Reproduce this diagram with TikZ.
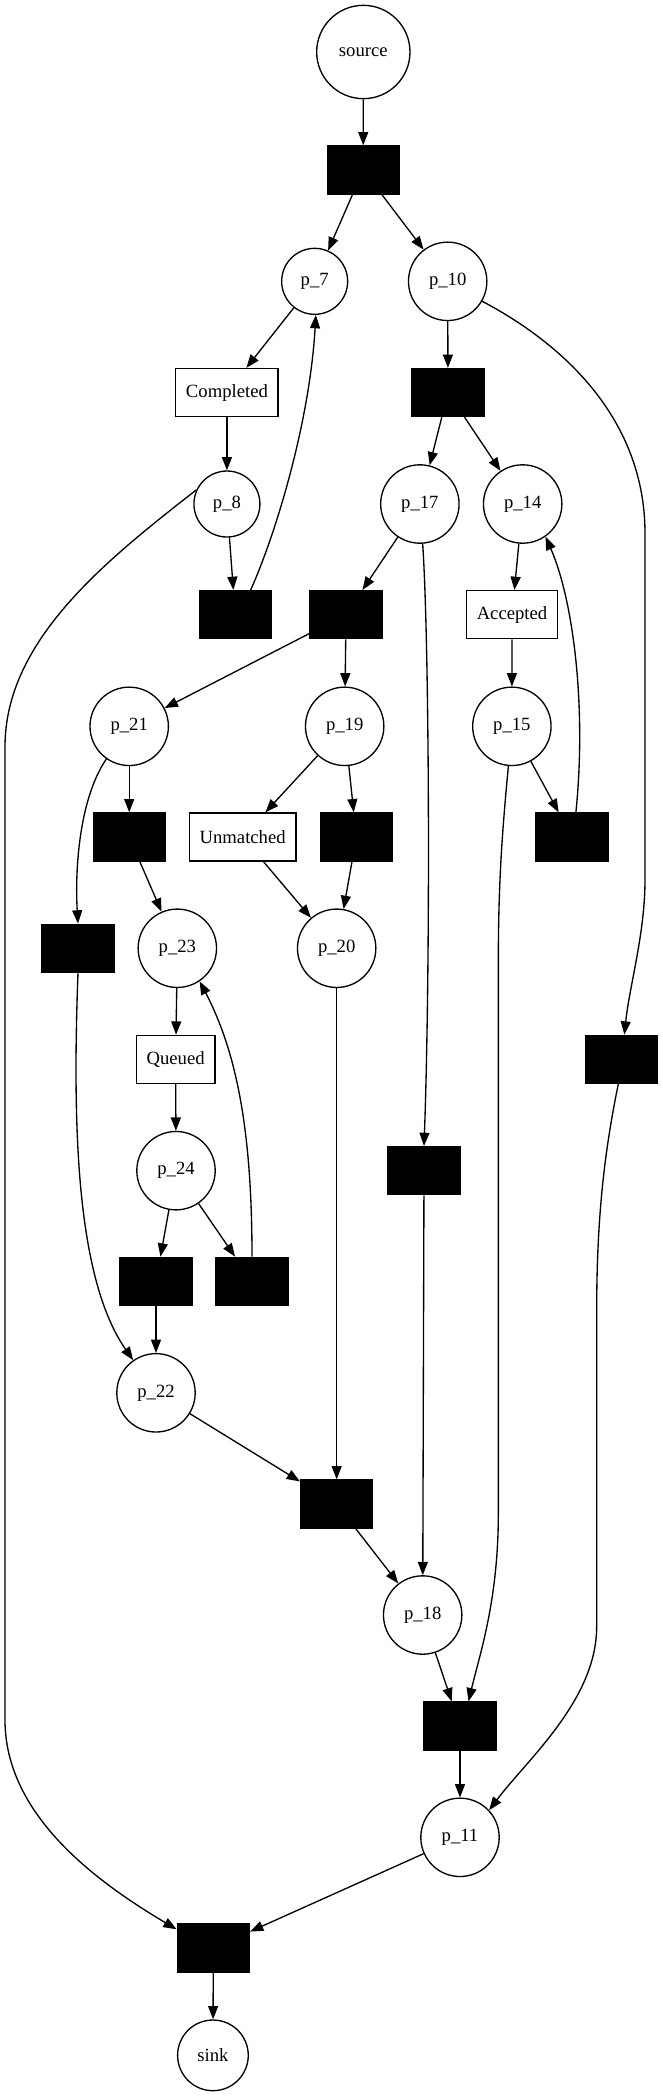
\documentclass[tikz,border=0pt]{standalone}
\usepackage{fontspec}
\setmainfont{Liberation Serif}
\usetikzlibrary{arrows.meta}
\begin{document}
\begin{tikzpicture}[x=1pt,y=-1pt,
  every node/.style={font=\fontsize{14}{16}\selectfont, line width=1pt},
  place/.style={circle, draw, inner sep=0pt, minimum size=58.8pt},
  placesm/.style={place, minimum size=49.5pt},
  trans/.style={rectangle, draw, fill=black, minimum width=54pt, minimum height=36pt, inner sep=0pt},
  lbl/.style={rectangle, draw, minimum height=36pt, inner xsep=7.7pt, inner ysep=0pt},
  arr/.style={-{Triangle[length=10pt,width=7.5pt]}, line width=1pt}]
\useasboundingbox (0,0) rectangle (497.25,1572);
% nodes
\node[place, minimum size=70pt] (source) at (272.5,39) {source};
\node[trans] (t1) at (272.4,127.5) {};
\node[placesm] (p7) at (236,211) {p\_7};
\node[place] (p10) at (335.75,211) {p\_10};
\node[lbl] (completed) at (170.2,294.4) {Completed};
\node[trans] (t2) at (336,294.4) {};
\node[placesm] (p8) at (170.2,378) {p\_8};
\node[place] (p17) at (314.9,378) {p\_17};
\node[place] (p14) at (392,378) {p\_14};
\node[trans] (t3) at (176.4,461) {};
\node[trans] (t4) at (259.5,461) {};
\node[lbl] (accepted) at (384,461) {Accepted};
\node[place] (p21) at (96.9,544.75) {p\_21};
\node[place] (p19) at (258.5,544.75) {p\_19};
\node[place] (p15) at (383.9,544.75) {p\_15};
\node[trans] (t5) at (96.9,627.75) {};
\node[lbl] (unmatched) at (182,627.75) {Unmatched};
\node[trans] (t6) at (267.25,627.75) {};
\node[trans] (t7) at (429,627.75) {};
\node[trans] (t8) at (58.5,711.2) {};
\node[place] (p23) at (133,711.2) {p\_23};
\node[place] (p20) at (252.5,711.2) {p\_20};
\node[lbl] (queued) at (131.75,794.5) {Queued};
\node[trans] (t9) at (466,794.5) {};
\node[place] (p24) at (132,878) {p\_24};
\node[trans] (t10) at (318,878) {};
\node[trans] (t11) at (117,961) {};
\node[trans] (t12) at (189,961) {};
\node[place] (p22) at (117,1044.6) {p\_22};
\node[trans] (t13) at (252.5,1128) {};
\node[place] (p18) at (317,1211.25) {p\_18};
\node[trans] (t14) at (345,1294.5) {};
\node[place] (p11) at (345,1378) {p\_11};
\node[trans] (t15) at (160,1461) {};
\node[place, minimum size=53pt] (sink) at (159.7,1541.5) {sink};
% straight edges
\draw[arr] (source) -- (t1);
\draw[arr] (t1) -- (p7);
\draw[arr] (t1) -- (p10);
\draw[arr] (p7) -- (completed);
\draw[arr] (completed) -- (p8);
\draw[arr] (p8) -- (t3);
\draw[arr] (p10) -- (t2);
\draw[arr] (t2) -- (p17);
\draw[arr] (t2) -- (p14);
\draw[arr] (p17) -- (t4);
\draw[arr] (p14) -- (accepted);
\draw[arr] (accepted) -- (p15);
\draw[arr] (t4) -- (p21);
\draw[arr] (t4) -- (p19);
\draw[arr] (p15) -- (t7);
\draw[arr] (p21) -- (t5);
\draw[arr] (p19) -- (unmatched);
\draw[arr] (p19) -- (t6);
\draw[arr] (t5) -- (p23);
\draw[arr] (unmatched) -- (p20);
\draw[arr] (t6) -- (p20);
\draw[arr] (p23) -- (queued);
\draw[arr] (queued) -- (p24);
\draw[arr] (p24) -- (t11);
\draw[arr] (p24) -- (t12);
\draw[arr] (t11) -- (p22);
\draw[arr] (p22) -- (t13);
\draw[arr] (p20) -- (t13);
\draw[arr] (t13) -- (p18);
\draw[arr] (t10) -- (p18);
\draw[arr] (p18) -- (t14);
\draw[arr] (t14) -- (p11);
\draw[arr] (p11) -- (t15);
\draw[arr] (t15) -- (sink);
% curved edges
\draw[arr] (t3.58.6) .. controls (205,405) and (232,320) .. (p7.-88);
\draw[arr] (t7.81) .. controls (440,530) and (430,450) .. (p14.-55);
\draw[arr] (t12.north) .. controls (189,850) and (178,790) .. (p23.-56);
\draw[arr] (p21.-125) .. controls (60,598) and (56,650) .. (t8.north);
\draw[arr] (t8.south) .. controls (54,850) and (58,960) .. (p22.125);
\draw[arr] (p17.-86) .. controls (322,480) and (323,720) .. (t10.north);
\draw[arr] (p8.155) .. controls (80,420) and (3.75,480) .. (3.75,560)
  -- (3.75,1290) .. controls (3.75,1360) and (70,1410) .. (t15.153);
\draw[arr] (p10.-30) .. controls (430,262) and (483.75,320) .. (483.75,400)
  -- (483.75,660) .. controls (483.75,700) and (472,740) .. (t9.83);
\draw[arr] (t9.-97) .. controls (452,870) and (447.5,920) .. (447.5,985)
  -- (447.5,1220) .. controls (447.5,1275) and (395,1320) .. (p11.43);
\draw[arr] (p15.-95) .. controls (377,620) and (373.75,660) .. (373.75,720)
  -- (373.75,1135) .. controls (373.75,1200) and (360,1240) .. (t14.71);
\end{tikzpicture}
\end{document}
